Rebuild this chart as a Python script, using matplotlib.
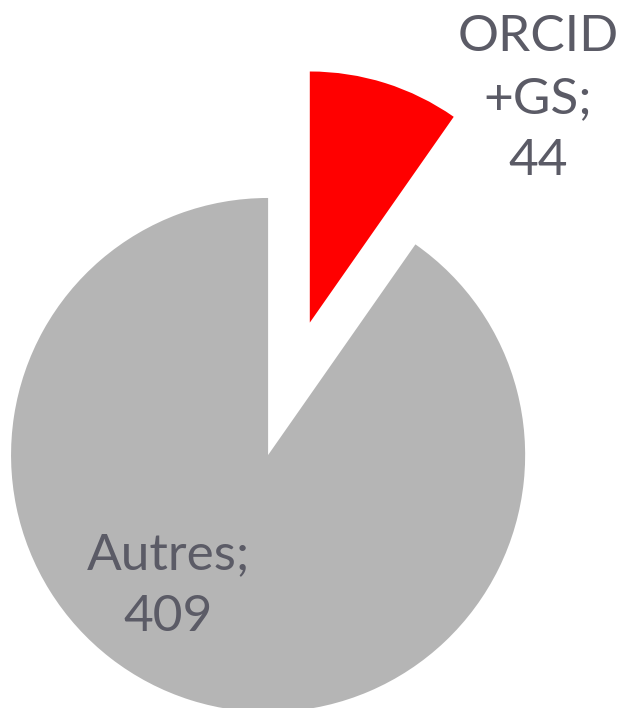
import matplotlib.pyplot as plt

# données
labels = ["ORCID\n+GS;\n44", "Autres;\n409"]
values = [44, 409]
colors = ["#ff0000", "#b5b5b5"]
explode = [0.54, 0]

fig = plt.figure(figsize=(6.2, 7.08), dpi=100)
ax = fig.add_axes([0, 0, 1, 1])

wedges, _ = ax.pie(values, colors=colors, explode=explode, startangle=90,
                   counterclock=False, radius=1.0)
# la part rouge est un peu plus petite dans l'original
wedges[0].set_radius(0.977)

ax.set_aspect("equal")
ax.set_xlim(-1.043, 1.369)
ax.set_ylim(-0.984, 1.770)
ax.axis("off")

txt_color = "#5b5b66"
ax.text(1.05, 1.385, labels[0], ha="center", va="center", color=txt_color,
        fontsize=37, family="Lato", linespacing=1.42)
ax.text(-0.389, -0.51, labels[1], ha="center", va="center", color=txt_color,
        fontsize=37, family="Lato", linespacing=1.42)

fig.savefig("out.png", dpi=100)
